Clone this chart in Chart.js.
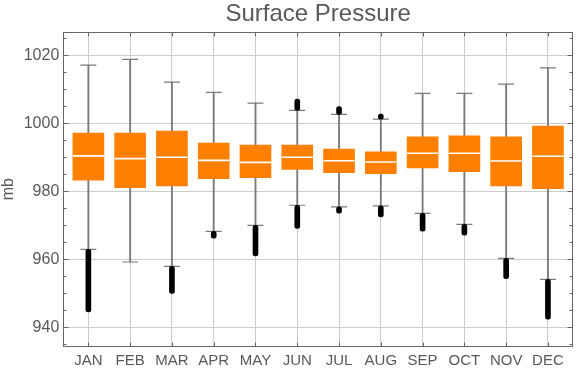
<!DOCTYPE html>
<html>
<head>
<meta charset="utf-8">
<script src="https://cdn.jsdelivr.net/npm/chart.js@4/dist/chart.umd.min.js"></script>
<style>
    html, body { margin: 0; padding: 0; background: #fff; }
    #wrap { width: 576px; height: 369px; }
</style>
</head>
<body>
<div id="wrap"><canvas id="chart"></canvas></div>
<script>
    var months = ["JAN", "FEB", "MAR", "APR", "MAY", "JUN", "JUL", "AUG", "SEP", "OCT", "NOV", "DEC"];
    var yTicks = [940, 960, 980, 1000, 1020];
    // box plot values, mb
    var whiskerHigh = [1017.1, 1018.8, 1012.1, 1009.1, 1005.9, 1003.8, 1002.6, 1001.2, 1008.8, 1008.8, 1011.5, 1016.3];
    var quartile3 = [997.1, 997.1, 997.7, 994.2, 993.6, 993.6, 992.4, 991.6, 996.0, 996.3, 996.0, 999.2];
    var medians = [990.4, 989.6, 990.0, 989.1, 988.5, 990.0, 989.0, 988.6, 991.2, 991.2, 988.9, 990.3];
    var quartile1 = [983.3, 981.1, 981.6, 983.7, 984.0, 986.4, 985.5, 985.2, 986.9, 985.8, 981.6, 980.8];
    var whiskerLow = [962.9, 959.2, 957.9, 968.2, 970.0, 975.9, 975.4, 975.7, 973.5, 970.3, 960.3, 954.1];
    // outlier extremes (null = no outliers)
    var outlierLow = [944.5, null, 950.0, 966.2, 961.0, 969.1, 973.6, 972.5, 968.3, 967.1, 954.3, 942.4];
    var outlierHigh = [null, null, null, null, null, 1007.1, 1004.9, 1002.7, null, null, null, null];

    var font = "'Liberation Sans', Arial, Helvetica, sans-serif";
    var textColor = "#595959";
    var gridColor = "#cccccc";
    var frameColor = "#666666";

    function rangeData(lo, hi) {
        var out = [];
        months.forEach(function (m, i) {
            if (lo[i] !== null && hi[i] !== null) {
                out.push({ x: i + 1, y: [lo[i], hi[i]] });
            }
        });
        return out;
    }
    function pointData(vals) {
        var out = [];
        vals.forEach(function (v, i) {
            if (v !== null) {
                out.push({ x: i + 1, y: v });
            }
        });
        return out;
    }
    // whisker end only where there are outliers beyond it
    function whereOutliers(whisker, outliers) {
        return whisker.map(function (w, i) { return outliers[i] === null ? null : w; });
    }

    // frame round the plot with inward ticks, as in the original
    var frameTicks = {
        id: "frameTicks",
        afterDraw: function (chart) {
            var ctx = chart.ctx;
            var a = chart.chartArea;
            var x = chart.scales.x;
            var y = chart.scales.y;
            var l = Math.round(a.left) + 0.5, r = Math.round(a.right) - 0.5;
            var t = Math.round(a.top) + 0.5, b = Math.round(a.bottom) - 0.5;
            ctx.save();
            ctx.strokeStyle = frameColor;
            ctx.lineWidth = 1;
            ctx.strokeRect(l, t, r - l, b - t);
            ctx.beginPath();
            for (var v = 935; v <= 1025; v += 5) {
                var py = Math.round(y.getPixelForValue(v)) + 0.5;
                var len = v % 20 === 0 ? 5 : 3;
                ctx.moveTo(l, py); ctx.lineTo(l + len, py);
                ctx.moveTo(r, py); ctx.lineTo(r - len, py);
            }
            months.forEach(function (m, i) {
                var px = Math.round(x.getPixelForValue(i + 1)) + 0.5;
                ctx.moveTo(px, t); ctx.lineTo(px, t + 4);
                ctx.moveTo(px, b); ctx.lineTo(px, b - 4);
            });
            ctx.stroke();
            ctx.restore();
        },
    };

    var common = { xAxisID: "x", yAxisID: "y" };

    new Chart(document.getElementById("chart"), {
        data: {
            datasets: [
                Object.assign({
                    type: "bar",
                    label: "outliers high",
                    data: rangeData(whereOutliers(whiskerHigh, outlierHigh), outlierHigh),
                    backgroundColor: "#000000",
                    barThickness: 5,
                    borderRadius: 2.5,
                    borderSkipped: false,
                    grouped: false,
                    order: 1,
                }, common),
                Object.assign({
                    type: "bar",
                    label: "outliers low",
                    data: rangeData(outlierLow, whereOutliers(whiskerLow, outlierLow)),
                    backgroundColor: "#000000",
                    barThickness: 5,
                    borderRadius: 2.5,
                    borderSkipped: false,
                    grouped: false,
                    order: 1,
                }, common),
                Object.assign({
                    type: "scatter",
                    label: "median",
                    data: pointData(medians),
                    pointStyle: "line",
                    pointRadius: 15.5,
                    pointHoverRadius: 15.5,
                    borderColor: "#ffffff",
                    pointBorderWidth: 1.6,
                    order: 2,
                }, common),
                Object.assign({
                    type: "bar",
                    label: "box",
                    data: rangeData(quartile1, quartile3),
                    backgroundColor: "#ff8000",
                    barThickness: 31,
                    grouped: false,
                    order: 3,
                }, common),
                Object.assign({
                    type: "scatter",
                    label: "caps",
                    data: pointData(whiskerHigh).concat(pointData(whiskerLow)),
                    pointStyle: "line",
                    pointRadius: 8,
                    pointHoverRadius: 8,
                    borderColor: "#7a7a7a",
                    pointBorderWidth: 1.2,
                    order: 4,
                }, common),
                Object.assign({
                    type: "bar",
                    label: "whisker",
                    data: rangeData(whiskerLow, whiskerHigh),
                    backgroundColor: "#7a7a7a",
                    barThickness: 1.2,
                    grouped: false,
                    order: 5,
                }, common),
            ],
        },
        options: {
            responsive: true,
            maintainAspectRatio: false,
            animation: false,
            layout: {
                autoPadding: false,
                padding: { top: 0, right: 3, bottom: 0, left: 0 },
            },
            plugins: {
                legend: { display: false },
                tooltip: { enabled: false },
            },
            scales: {
                x: {
                    type: "linear",
                    min: 0.4,
                    max: 12.6,
                    offset: false,
                    afterBuildTicks: function (scale) {
                        scale.ticks = months.map(function (m, i) { return { value: i + 1 }; });
                    },
                    afterFit: function (scale) {
                        scale.height = 22.3;
                    },
                    ticks: {
                        autoSkip: false,
                        maxRotation: 0,
                        padding: 6.5,
                        color: textColor,
                        font: { family: font, size: 15, lineHeight: 1 },
                        callback: function (v) { return months[Math.round(v) - 1]; },
                    },
                    grid: { color: gridColor, drawTicks: false, offset: false },
                    border: { display: false },
                },
                y: {
                    type: "linear",
                    min: 934.3,
                    max: 1026.9,
                    afterBuildTicks: function (scale) {
                        scale.ticks = yTicks.map(function (v) { return { value: v }; });
                    },
                    afterFit: function (scale) {
                        scale.width = 63.3;
                    },
                    ticks: {
                        padding: 4,
                        color: textColor,
                        font: { family: font, size: 16 },
                        callback: function (v) { return String(v); },
                    },
                    grid: { color: gridColor, drawTicks: false },
                    border: { display: false },
                    title: {
                        display: true,
                        text: "mb",
                        color: textColor,
                        font: { family: font, size: 16, lineHeight: 1 },
                        padding: { top: 1, bottom: 0 },
                    },
                },
                // only carries the chart title, centred over the plot
                titleAxis: {
                    type: "linear",
                    position: "top",
                    ticks: { display: false },
                    grid: { display: false, drawTicks: false },
                    border: { display: false },
                    title: {
                        display: true,
                        text: "Surface Pressure",
                        color: textColor,
                        font: { family: font, size: 24, lineHeight: 1.2 },
                        padding: { top: 0, bottom: 3 },
                    },
                },
            },
        },
        plugins: [frameTicks],
    });
</script>
</body>
</html>
